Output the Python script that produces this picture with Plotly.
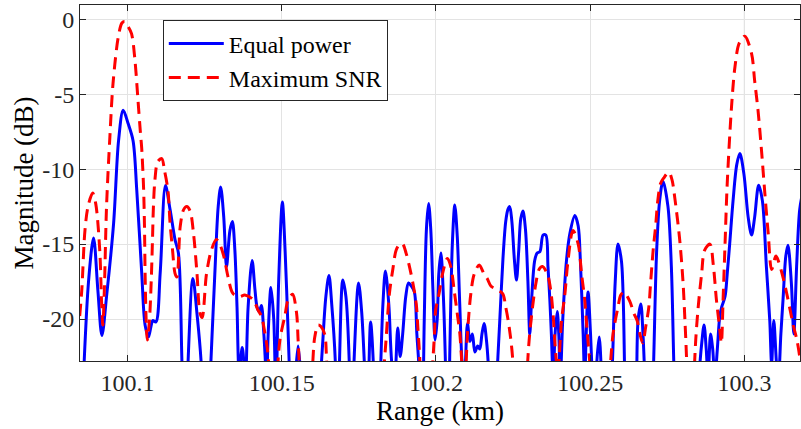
import plotly.graph_objects as go

# ---- data (range in km, magnitude in dB) ----
eq_range = [
    100.0855, 100.0874, 100.0890, 100.0904, 100.0917, 100.0933, 100.0955, 100.0971, 100.0986, 100.1002,
    100.1018, 100.1030, 100.1046, 100.1057, 100.1068, 100.1076, 100.1082, 100.1092, 100.1106, 100.1123,
    100.1138, 100.1154, 100.1165, 100.1176, 100.1186, 100.1197, 100.1212, 100.1226, 100.1239, 100.1251,
    100.1270, 100.1283, 100.1294, 100.1302, 100.1312, 100.1321, 100.1332, 100.1340, 100.1348, 100.1355,
    100.1362, 100.1372, 100.1382, 100.1391, 100.1404, 100.1413, 100.1420, 100.1427, 100.1434, 100.1442,
    100.1451, 100.1456, 100.1465, 100.1474, 100.1481, 100.1490, 100.1502, 100.1511, 100.1520, 100.1526,
    100.1536, 100.1544, 100.1553, 100.1562, 100.1571, 100.1591, 100.1610, 100.1623, 100.1633, 100.1643,
    100.1653, 100.1662, 100.1674, 100.1680, 100.1687, 100.1698, 100.1708, 100.1719, 100.1725, 100.1734,
    100.1749, 100.1759, 100.1768, 100.1777, 100.1788, 100.1797, 100.1808, 100.1821, 100.1828, 100.1836,
    100.1847, 100.1857, 100.1866, 100.1876, 100.1884, 100.1892, 100.1902, 100.1911, 100.1920, 100.1930,
    100.1938, 100.1947, 100.1954, 100.1962, 100.1969, 100.1976, 100.1983, 100.1990, 100.1997, 100.2004,
    100.2009, 100.2016, 100.2024, 100.2032, 100.2038, 100.2045, 100.2053, 100.2061, 100.2069, 100.2077,
    100.2085, 100.2092, 100.2102, 100.2110, 100.2118, 100.2126, 100.2135, 100.2142, 100.2149, 100.2156,
    100.2164, 100.2172, 100.2181, 100.2197, 100.2207, 100.2217, 100.2226, 100.2233, 100.2239, 100.2246,
    100.2254, 100.2261, 100.2268, 100.2275, 100.2282, 100.2290, 100.2298, 100.2304, 100.2310, 100.2320,
    100.2328, 100.2337, 100.2347, 100.2356, 100.2363, 100.2369, 100.2374, 100.2380, 100.2386, 100.2393,
    100.2398, 100.2403, 100.2411, 100.2423, 100.2434, 100.2450, 100.2461, 100.2468, 100.2477, 100.2482,
    100.2487, 100.2493, 100.2501, 100.2507, 100.2515, 100.2521, 100.2529, 100.2537, 100.2550, 100.2570,
    100.2581, 100.2590, 100.2601, 100.2607, 100.2612, 100.2622, 100.2638, 100.2650, 100.2655, 100.2664,
    100.2671, 100.2677, 100.2690, 100.2704, 100.2715, 100.2725, 100.2736, 100.2752, 100.2763, 100.2771,
    100.2781, 100.2816, 100.2852, 100.2862, 100.2869, 100.2876, 100.2882, 100.2890, 100.2897, 100.2904,
    100.2912, 100.2920, 100.2926, 100.2937, 100.2944, 100.2952, 100.2963, 100.2975, 100.2985, 100.2998,
    100.3012, 100.3023, 100.3033, 100.3046, 100.3058, 100.3071, 100.3082, 100.3088, 100.3095, 100.3104,
    100.3110, 100.3118, 100.3125, 100.3134, 100.3141, 100.3152, 100.3160, 100.3169, 100.3179, 100.3189,
]
eq_db = [
    -25, -17.4, -14.6, -18.1, -21.1, -18.3, -13.6, -8.1, -6.07, -6.96,
    -8.1, -11.4, -16.9, -20.4, -21.2, -20.5, -20.1, -20.2, -16.9, -11.1,
    -12.7, -14.7, -15.6, -22.5, -32, -22.5, -17.3, -19.8, -23, -32,
    -23, -17.0, -12.5, -11.2, -13.2, -16.5, -14.1, -13.5, -15.4, -19.2,
    -23.5, -21.9, -24, -19.2, -16.1, -18, -19.2, -19.5, -19.1, -21,
    -24, -21, -17.9, -20, -25, -17.5, -12.2, -15.5, -20.5, -24,
    -30, -24, -21.8, -24, -32, -38, -32, -25, -21.5, -18.5,
    -17.1, -19, -23, -30, -23, -17.4, -18.5, -23, -30, -23,
    -17.6, -19.5, -23, -27, -20.2, -23, -32, -23, -19, -16.8,
    -19, -23, -24, -20.6, -22.5, -21, -18.5, -17.6, -17.8, -18.2,
    -21, -24, -30, -20, -14, -12.3, -14, -18, -21.4, -20,
    -17, -15.6, -18.5, -24, -30, -22, -15, -12.4, -14.5, -19,
    -23, -24, -20.3, -21.5, -21.0, -22.2, -21.8, -22, -21, -20.3,
    -21.5, -24, -30, -24, -20, -16, -13.5, -12.7, -12.5, -13.5,
    -16, -17.4, -15.5, -13.3, -12.8, -14, -17.5, -21, -18.7, -16.1,
    -15.6, -15.5, -14.4, -14.4, -16.5, -18.7, -21, -24, -21, -19.5,
    -21, -24, -20, -16.1, -14.3, -13.1, -13.8, -16.1, -21, -24,
    -21, -18.2, -21, -24, -27, -23, -21.2, -24, -32, -24,
    -17.5, -15.0, -16.1, -18.7, -24, -32, -30, -24, -20.1, -19.0,
    -21, -24, -32, -24, -15.6, -12.1, -10.8, -12.5, -16.5, -23,
    -30, -40, -24, -21.5, -20.4, -22, -24, -21.0, -22, -24,
    -22, -19.8, -19.2, -18.5, -17, -15, -12.1, -9.7, -8.96, -10.3,
    -13.2, -14.4, -13.2, -11.07, -12.1, -16.5, -20.1, -23, -20.1, -23,
    -24, -21, -18.7, -15.8, -15.07, -17.6, -21.0, -16.5, -12.7, -11.5,
]

snr_range = [
    100.0845, 100.0852, 100.0862, 100.0872, 100.0887, 100.0897, 100.0910, 100.0916, 100.0920, 100.0925,
    100.0932, 100.0943, 100.0953, 100.0970, 100.0982, 100.0991, 100.1001, 100.1013, 100.1024, 100.1034,
    100.1042, 100.1046, 100.1052, 100.1055, 100.1057, 100.1060, 100.1064, 100.1071, 100.1077, 100.1081,
    100.1084, 100.1089, 100.1098, 100.1111, 100.1120, 100.1131, 100.1138, 100.1146, 100.1154, 100.1160,
    100.1171, 100.1182, 100.1192, 100.1203, 100.1214, 100.1225, 100.1235, 100.1242, 100.1256, 100.1272,
    100.1288, 100.1299, 100.1312, 100.1326, 100.1342, 100.1364, 100.1380, 100.1407, 100.1423, 100.1434,
    100.1445, 100.1456, 100.1468, 100.1482, 100.1494, 100.1510, 100.1521, 100.1535, 100.1548, 100.1553,
    100.1562, 100.1581, 100.1599, 100.1607, 100.1618, 100.1627, 100.1639, 100.1646, 100.1672, 100.1753,
    100.1815, 100.1829, 100.1838, 100.1849, 100.1860, 100.1871, 100.1883, 100.1892, 100.1903, 100.1914,
    100.1925, 100.1936, 100.1941, 100.1947, 100.1957, 100.1973, 100.1988, 100.1995, 100.1999, 100.2010,
    100.2021, 100.2037, 100.2048, 100.2059, 100.2070, 100.2077, 100.2084, 100.2092, 100.2102, 100.2113,
    100.2124, 100.2140, 100.2156, 100.2166, 100.2178, 100.2194, 100.2216, 100.2226, 100.2237, 100.2248,
    100.2259, 100.2278, 100.2294, 100.2302, 100.2313, 100.2324, 100.2334, 100.2345, 100.2361, 100.2372,
    100.2380, 100.2387, 100.2395, 100.2407, 100.2418, 100.2428, 100.2444, 100.2461, 100.2472, 100.2482,
    100.2490, 100.2499, 100.2531, 100.2562, 100.2574, 100.2590, 100.2599, 100.2609, 100.2628, 100.2641,
    100.2652, 100.2661, 100.2670, 100.2680, 100.2690, 100.2695, 100.2704, 100.2712, 100.2719, 100.2728,
    100.2738, 100.2755, 100.2765, 100.2774, 100.2790, 100.2801, 100.2807, 100.2812, 100.2823, 100.2836,
    100.2842, 100.2850, 100.2861, 100.2871, 100.2888, 100.2899, 100.2909, 100.2920, 100.2925, 100.2931,
    100.2937, 100.2944, 100.2958, 100.2969, 100.2983, 100.3001, 100.3023, 100.3033, 100.3044, 100.3055,
    100.3066, 100.3077, 100.3088, 100.3102, 100.3111, 100.3126, 100.3137, 100.3148, 100.3158, 100.3170,
    100.3179, 100.3189,
]
snr_db = [
    -19.8, -18, -14.1, -12.5, -11.6, -12.3, -15.4, -18.9, -20.4, -18,
    -12.5, -7.8, -4.3, -1.2, -0.25, -0.15, -0.45, -0.96, -2.7, -5.4,
    -7.6, -8.6, -11.2, -13.8, -16.9, -19.8, -21.4, -20.1, -17.4, -14.7,
    -12.5, -10.7, -9.5, -9.3, -10.1, -11.4, -13.6, -15.4, -16.95, -17.2,
    -13.8, -12.7, -12.5, -12.8, -14.3, -16.9, -19.6, -19.9, -17.0, -15.4,
    -14.7, -15.0, -15.8, -17.2, -18.3, -18.5, -18.4, -18.7, -19.4, -19.8,
    -20.9, -22.5, -30, -25, -21.4, -19.8, -18.7, -18.35, -19.6, -21.4,
    -25, -30, -23.5, -21.2, -20.4, -20.5, -21.0, -23, -35, -40,
    -30, -24, -21.4, -18.3, -16.7, -15.4, -15.0, -15.0, -15.6, -16.5,
    -17.6, -19.0, -20.5, -22.5, -28, -30, -23.5, -21.0, -19.4, -18.3,
    -17.0, -15.96, -16.5, -18.1, -19.8, -20.9, -23, -25, -21.0, -18.3,
    -17.0, -16.4, -17.0, -17.3, -17.8, -18.0, -18.3, -19.2, -20.5, -22.5,
    -28, -30, -24, -21.4, -19.2, -17.6, -16.7, -16.5, -17.0, -18.1,
    -19.8, -22, -23.5, -20.1, -18.3, -16.1, -14.1, -15.0, -17.0, -18.7,
    -20.8, -23, -32, -24, -21.0, -19.2, -18.4, -18.2, -18.8, -19.6,
    -20.1, -21.0, -21.6, -20.5, -19.2, -17.8, -15.4, -13.8, -12.1, -10.96,
    -10.6, -10.2, -10.7, -11.9, -14.7, -17.6, -20.1, -22.5, -30, -24,
    -21.4, -19.2, -17.0, -15.4, -15.0, -16.4, -18.7, -20.7, -21.6, -18.5,
    -15, -11, -5.85, -3.2, -1.6, -1.13, -2.3, -4.1, -6.1, -8.7,
    -11.6, -14.3, -16.7, -15.8, -16.2, -17.3, -18.3, -19.4, -20.4, -21.4,
    -22.5, -24,
]

target_range = [100.1, 100.3]
x_ticks = [100.1, 100.15, 100.2, 100.25, 100.3]
x_tick_text = ["100.1", "100.15", "100.2", "100.25", "100.3"]
y_ticks = [0, -5, -10, -15, -20]
y_tick_text = ["0", "-5", "-10", "-15", "-20"]

FONT = "Liberation Serif"
AX = "#262626"

fig = go.Figure()
fig.add_trace(go.Scatter(
    x=eq_range, y=eq_db, mode="lines", name="Equal power",
    line=dict(color="#0000ff", width=3, shape="spline", smoothing=0.9),
))
fig.add_trace(go.Scatter(
    x=snr_range, y=snr_db, mode="lines", name="Maximum SNR",
    line=dict(color="#ff0000", width=3, dash="12px,7px", shape="spline", smoothing=0.9),
))

for t in target_range:
    fig.add_shape(type="line", xref="x", yref="paper", x0=t, x1=t, y0=0, y1=1,
                  line=dict(color="black", width=1), layer="below")

fig.update_layout(
    width=801, height=429,
    margin=dict(l=80, r=1, t=5, b=68),
    paper_bgcolor="white", plot_bgcolor="white",
    font=dict(family=FONT, size=24, color=AX),
    showlegend=True,
    legend=dict(
        x=0.115, y=0.957, xanchor="left", yanchor="top",
        bgcolor="white", bordercolor=AX, borderwidth=1,
        font=dict(family=FONT, size=24, color="black"),
        tracegroupgap=0, itemwidth=55,
    ),
)
fig.update_xaxes(
    range=[100.0846, 100.3180], tickvals=x_ticks, ticktext=x_tick_text,
    showgrid=True, gridcolor="#e3e3e3", gridwidth=1, zeroline=False,
    showline=True, linecolor=AX, linewidth=1, mirror="ticks",
    ticks="inside", ticklen=6, tickcolor=AX,
    tickfont=dict(family=FONT, size=24, color=AX),
    title=dict(text="Range (km)", font=dict(family=FONT, size=27, color="black"), standoff=4),
)
fig.update_yaxes(
    range=[-22.8, 0.95], tickvals=y_ticks, ticktext=y_tick_text,
    showgrid=True, gridcolor="#e3e3e3", gridwidth=1, zeroline=False,
    showline=True, linecolor=AX, linewidth=1, mirror="ticks",
    ticks="inside", ticklen=6, tickcolor=AX,
    tickfont=dict(family=FONT, size=24, color=AX),
    title=dict(text="Magnitude (dB)", font=dict(family=FONT, size=27, color="black"), standoff=0),
)

fig.write_html("out.html")
